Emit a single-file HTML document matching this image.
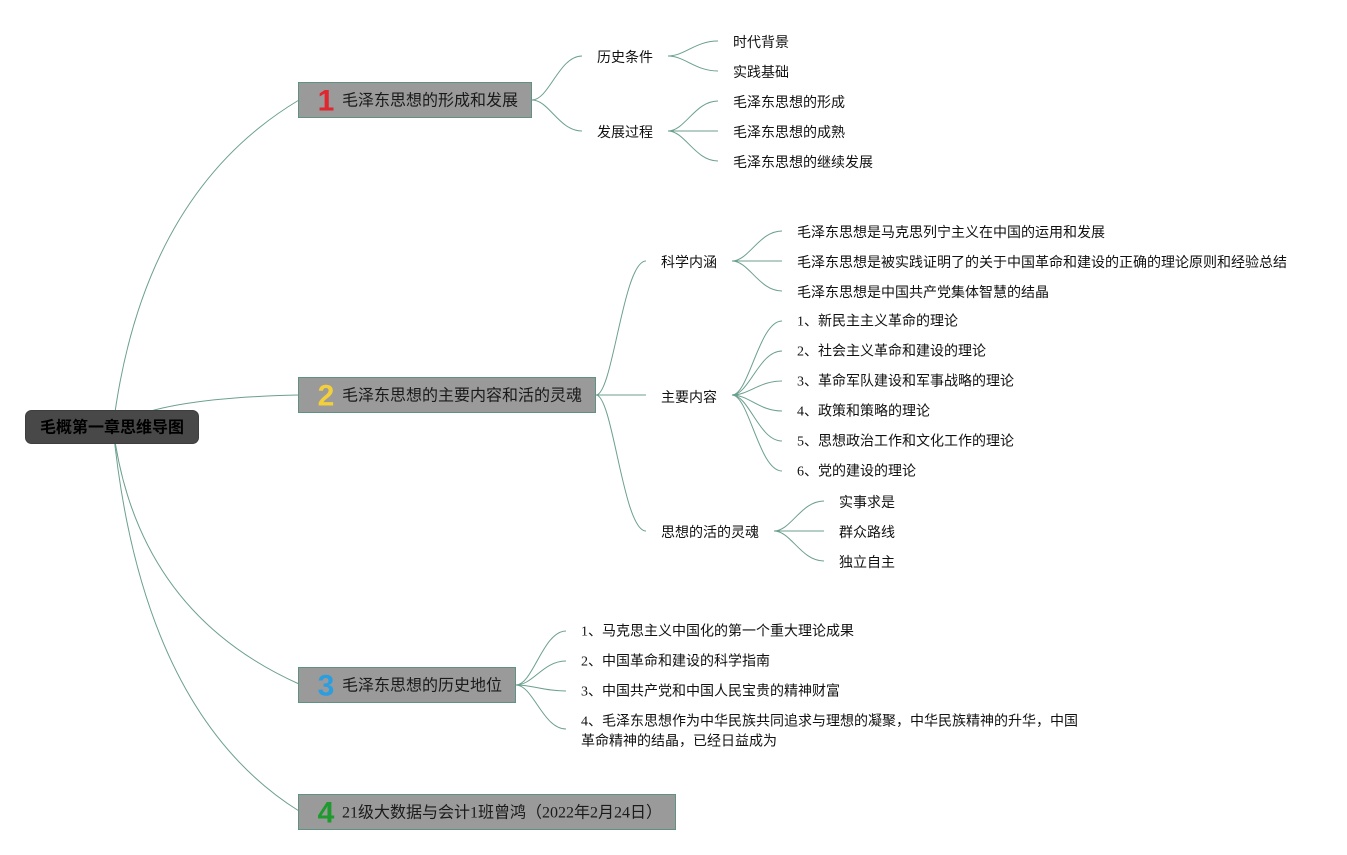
<!DOCTYPE html>
<html>
<head>
<meta charset="utf-8">
<style>
  html,body{margin:0;padding:0;background:#ffffff;}
  body{width:1347px;height:855px;overflow:hidden;}
  svg{display:block;}
  .ln{fill:none;stroke:#6b9f8f;stroke-width:1;}
  .t{font-family:"Liberation Serif","Noto Sans CJK SC",sans-serif;font-size:14px;fill:#111;}
  .s{font-family:"Liberation Sans","Noto Sans CJK SC",sans-serif;font-size:14px;fill:#111;}
  .tp{font-family:"Liberation Serif","Noto Sans CJK SC",sans-serif;font-size:16px;fill:#1a1a1a;}
  .num{font-family:"Liberation Sans","DejaVu Sans",sans-serif;font-size:30px;font-weight:bold;}
  .root{font-family:"Liberation Sans","Noto Sans CJK SC",sans-serif;font-size:16px;font-weight:bold;fill:#000;}
  .box{fill:#9a9a9a;stroke:#5f9282;stroke-width:1;}
</style>
</head>
<body>
<svg width="1347" height="855" viewBox="0 0 1347 855" xmlns="http://www.w3.org/2000/svg">
  <!-- root connectors -->
  <path class="ln" d="M113 427 Q142 194 299 100"/>
  <path class="ln" d="M113 427 Q155 398 299 395"/>
  <path class="ln" d="M113 427 Q136 611 299 684"/>
  <path class="ln" d="M113 427 Q141 712 299 811"/>

  <!-- T1 children -->
  <path class="ln" d="M532 100 C549 100 559 56 582 56"/>
  <path class="ln" d="M532 100 C549 100 559 131 582 131"/>
  <!-- 历史条件 fan -->
  <path class="ln" d="M668 56 C685 56 695 41 718 41"/>
  <path class="ln" d="M668 56 C685 56 695 71 718 71"/>
  <!-- 发展过程 fan -->
  <path class="ln" d="M668 131 C685 131 695 101 718 101"/>
  <path class="ln" d="M668 131 L718 131"/>
  <path class="ln" d="M668 131 C685 131 695 161 718 161"/>

  <!-- T2 children -->
  <path class="ln" d="M596 395 C613 395 623 261 646 261"/>
  <path class="ln" d="M596 395 L646 395"/>
  <path class="ln" d="M596 395 C613 395 623 531 646 531"/>
  <!-- 科学内涵 fan -->
  <path class="ln" d="M732 261 C749 261 759 231 782 231"/>
  <path class="ln" d="M732 261 L782 261"/>
  <path class="ln" d="M732 261 C749 261 759 291 782 291"/>
  <!-- 主要内容 fan -->
  <path class="ln" d="M732 395 C749 395 759 321 782 321"/>
  <path class="ln" d="M732 395 C749 395 759 351 782 351"/>
  <path class="ln" d="M732 395 C749 395 759 381 782 381"/>
  <path class="ln" d="M732 395 C749 395 759 411 782 411"/>
  <path class="ln" d="M732 395 C749 395 759 441 782 441"/>
  <path class="ln" d="M732 395 C749 395 759 471 782 471"/>
  <!-- 灵魂 fan -->
  <path class="ln" d="M774 531 C791 531 801 501 824 501"/>
  <path class="ln" d="M774 531 L824 531"/>
  <path class="ln" d="M774 531 C791 531 801 561 824 561"/>

  <!-- T3 children -->
  <path class="ln" d="M516 685 C533 685 543 631 566 631"/>
  <path class="ln" d="M516 685 C533 685 543 661 566 661"/>
  <path class="ln" d="M516 685 C533 685 543 691 566 691"/>
  <path class="ln" d="M516 685 C533 685 543 729 566 729"/>

  <!-- root box -->
  <rect x="25.5" y="410.5" width="173" height="33" rx="6" ry="6" fill="#484848" stroke="#3e3e3e" stroke-width="1"/>
  <text class="root" x="112" y="428" text-anchor="middle" dominant-baseline="central">毛概第一章思维导图</text>

  <!-- topic boxes -->
  <rect class="box" x="298.5" y="82.5" width="233" height="35"/>
  <text class="num" x="326" y="101" text-anchor="middle" dominant-baseline="central" fill="#e0262f">1</text>
  <text class="tp" x="342" y="101" dominant-baseline="central">毛泽东思想的形成和发展</text>

  <rect class="box" x="298.5" y="377.5" width="297" height="35"/>
  <text class="num" x="326" y="396" text-anchor="middle" dominant-baseline="central" fill="#f2cf3b">2</text>
  <text class="tp" x="342" y="396" dominant-baseline="central">毛泽东思想的主要内容和活的灵魂</text>

  <rect class="box" x="298.5" y="667.5" width="217" height="35"/>
  <text class="num" x="326" y="686" text-anchor="middle" dominant-baseline="central" fill="#2a9ee0">3</text>
  <text class="tp" x="342" y="686" dominant-baseline="central">毛泽东思想的历史地位</text>

  <rect class="box" x="298.5" y="794.5" width="377" height="35"/>
  <text class="num" x="326" y="813" text-anchor="middle" dominant-baseline="central" fill="#1e9a2e">4</text>
  <text class="tp" x="342" y="813" dominant-baseline="central">21级大数据与会计1班曾鸿（2022年2月24日）</text>

  <g transform="translate(0,1)">
  <!-- T1 subtopics -->
  <text class="s" x="597" y="56" dominant-baseline="central">历史条件</text>
  <text class="s" x="597" y="131" dominant-baseline="central">发展过程</text>
  <text class="s" x="733" y="41" dominant-baseline="central">时代背景</text>
  <text class="s" x="733" y="71" dominant-baseline="central">实践基础</text>
  <text class="s" x="733" y="101" dominant-baseline="central">毛泽东思想的形成</text>
  <text class="s" x="733" y="131" dominant-baseline="central">毛泽东思想的成熟</text>
  <text class="s" x="733" y="161" dominant-baseline="central">毛泽东思想的继续发展</text>

  <!-- T2 subtopics -->
  <text class="s" x="661" y="261" dominant-baseline="central">科学内涵</text>
  <text class="s" x="661" y="396" dominant-baseline="central">主要内容</text>
  <text class="s" x="661" y="531" dominant-baseline="central">思想的活的灵魂</text>

  <text class="s" x="797" y="231" dominant-baseline="central">毛泽东思想是马克思列宁主义在中国的运用和发展</text>
  <text class="s" x="797" y="261" dominant-baseline="central">毛泽东思想是被实践证明了的关于中国革命和建设的正确的理论原则和经验总结</text>
  <text class="s" x="797" y="291" dominant-baseline="central">毛泽东思想是中国共产党集体智慧的结晶</text>

  <text class="t" x="797" y="321" dominant-baseline="central">1、新民主主义革命的理论</text>
  <text class="t" x="797" y="351" dominant-baseline="central">2、社会主义革命和建设的理论</text>
  <text class="t" x="797" y="381" dominant-baseline="central">3、革命军队建设和军事战略的理论</text>
  <text class="t" x="797" y="411" dominant-baseline="central">4、政策和策略的理论</text>
  <text class="t" x="797" y="441" dominant-baseline="central">5、思想政治工作和文化工作的理论</text>
  <text class="t" x="797" y="471" dominant-baseline="central">6、党的建设的理论</text>

  <text class="s" x="839" y="501" dominant-baseline="central">实事求是</text>
  <text class="s" x="839" y="531" dominant-baseline="central">群众路线</text>
  <text class="s" x="839" y="561" dominant-baseline="central">独立自主</text>

  <!-- T3 leaves -->
  <text class="t" x="581" y="631" dominant-baseline="central">1、马克思主义中国化的第一个重大理论成果</text>
  <text class="t" x="581" y="661" dominant-baseline="central">2、中国革命和建设的科学指南</text>
  <text class="t" x="581" y="691" dominant-baseline="central">3、中国共产党和中国人民宝贵的精神财富</text>
  <text class="t" x="581" y="721" dominant-baseline="central">4、毛泽东思想作为中华民族共同追求与理想的凝聚，中华民族精神的升华，中国</text>
  <text class="t" x="581" y="741" dominant-baseline="central">革命精神的结晶，已经日益成为</text>
  </g>
</svg>
</body>
</html>
